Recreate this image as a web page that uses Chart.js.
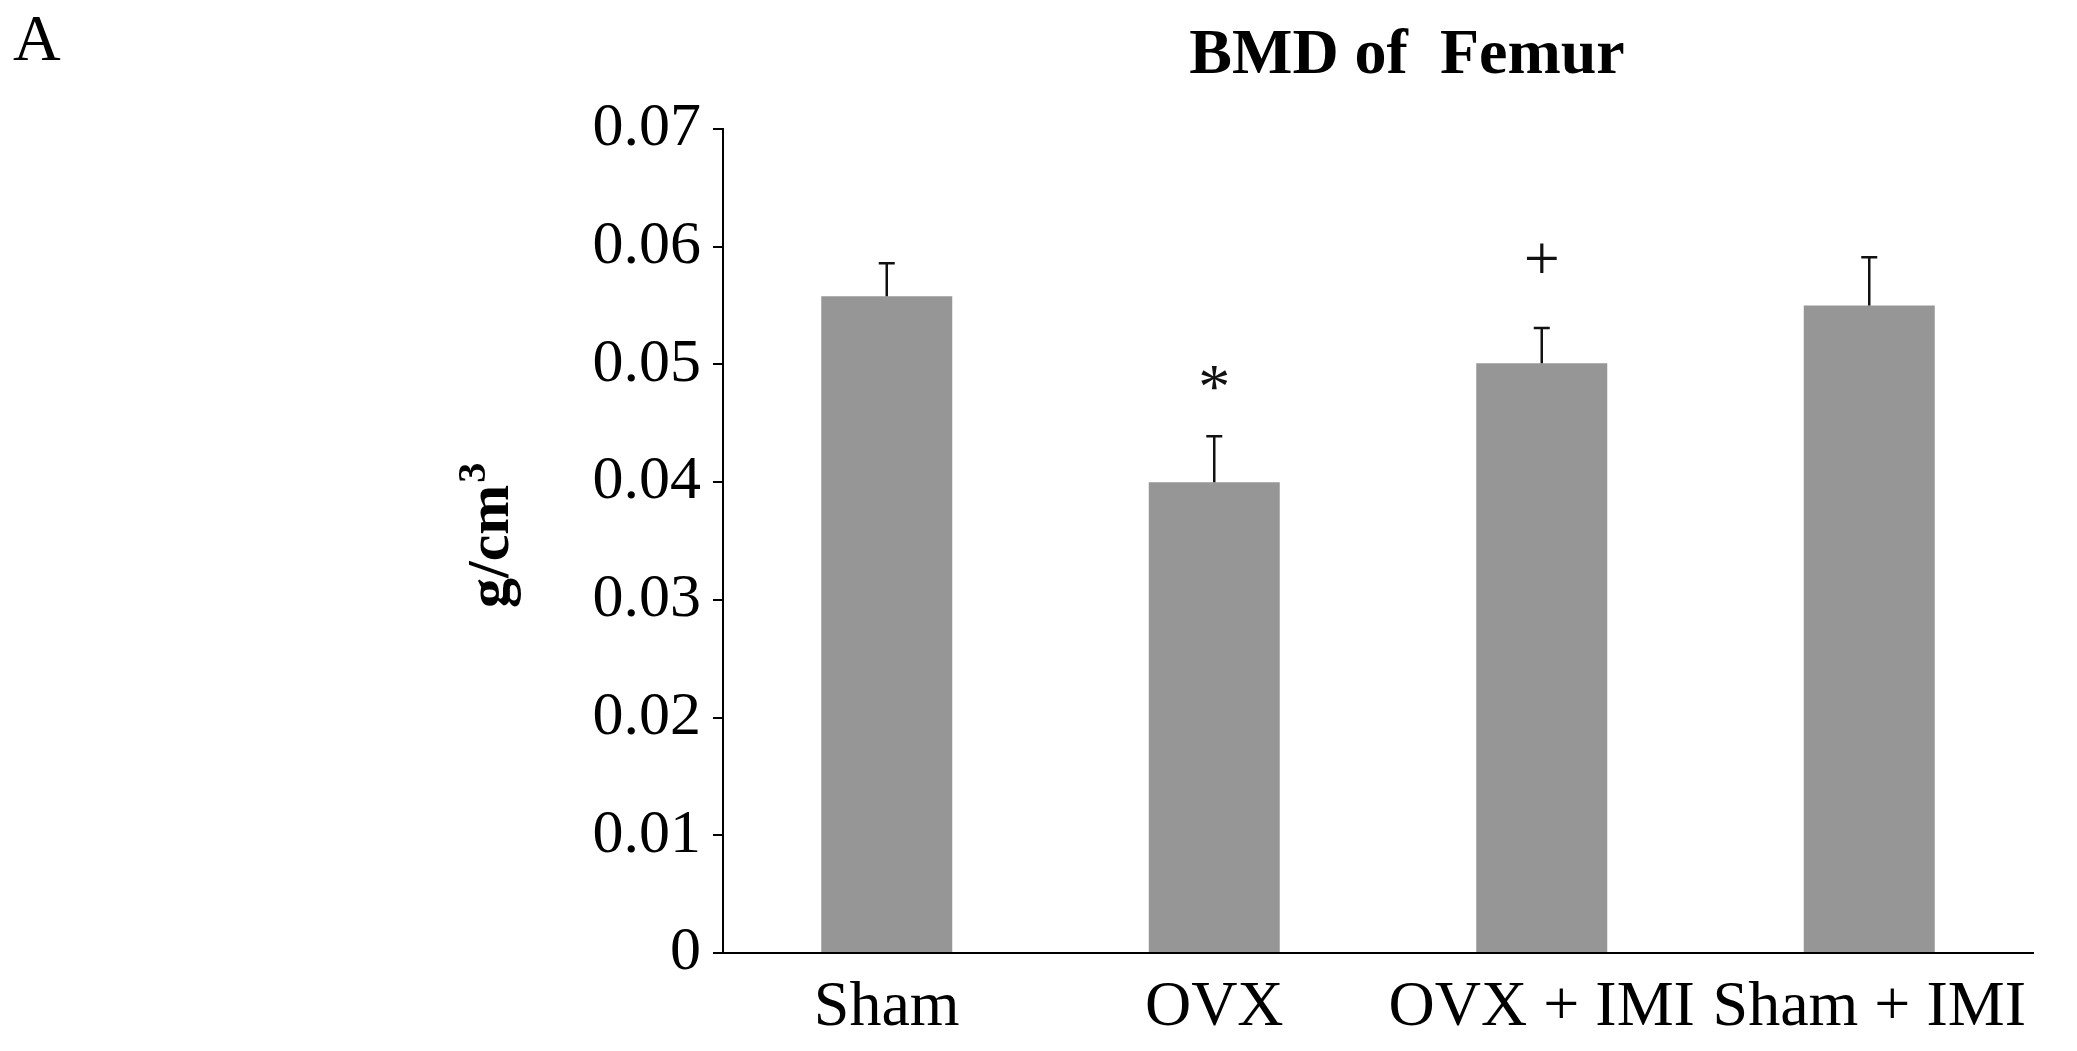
<!DOCTYPE html>
<html>
<head>
<meta charset="utf-8">
<title>BMD of Femur</title>
<script src="https://cdn.jsdelivr.net/npm/chart.js@4.4.1/dist/chart.umd.min.js"></script>
<style>
	html, body { margin: 0; padding: 0; background: #fff; }
	#wrapper-chart { width: 2077px; height: 1051px; }
</style>
</head>
<body>
<div id="wrapper-chart"><canvas id="chart-1" width="2077" height="1051"></canvas></div>
<script>
// values
var categories = ['Sham', 'OVX', 'OVX + IMI', 'Sham + IMI'];
var bmdValues = [0.0558, 0.0400, 0.0501, 0.0550];
var bmdErrors = [0.0028, 0.0039, 0.0030, 0.0041];
var sigMarks = ['', '*', '+', ''];
var yTicks = [0, 0.01, 0.02, 0.03, 0.04, 0.05, 0.06, 0.07];

var app = (function(){
	var
		serif = "'Liberation Serif', 'Times New Roman', serif"
		,barColor = '#969696'
		,inkColor = '#000'
		,markGap = { '*': 58, '+': 70 }
		,chart;

	function init(){
		_createChart();
	}

	function _errorBars(){
		return {
			id: 'errorBars',
			afterDatasetsDraw: function(c){
				var ctx = c.ctx, meta = c.getDatasetMeta(0), y = c.scales.y;
				ctx.save();
				ctx.strokeStyle = '#111';
				ctx.lineWidth = 2.5;
				meta.data.forEach(function(bar, i){
					var top = y.getPixelForValue(bmdValues[i] + bmdErrors[i]);
					ctx.beginPath();
					ctx.moveTo(bar.x, bar.y);
					ctx.lineTo(bar.x, top);
					ctx.moveTo(bar.x - 8, top);
					ctx.lineTo(bar.x + 8, top);
					ctx.stroke();
					if(sigMarks[i]){
						ctx.fillStyle = '#111';
						ctx.font = '64px ' + serif;
						ctx.textAlign = 'center';
						ctx.textBaseline = 'alphabetic';
						var m = ctx.measureText(sigMarks[i]);
						var cy = top - markGap[sigMarks[i]];
						ctx.fillText(sigMarks[i], bar.x, cy + (m.actualBoundingBoxAscent - m.actualBoundingBoxDescent) / 2);
					}
				});
				ctx.restore();
			}
		};
	}

	function _labels(){
		return {
			id: 'labels',
			afterDraw: function(c){
				var ctx = c.ctx;
				ctx.save();
				ctx.fillStyle = inkColor;
				ctx.textBaseline = 'alphabetic';

				// panel letter
				ctx.textAlign = 'left';
				ctx.font = '66px ' + serif;
				ctx.fillText('A', 13, 60);

				// title
				ctx.textAlign = 'center';
				ctx.font = 'bold 64px ' + serif;
				ctx.fillText('BMD of  Femur', 1407, 73);

				// y axis title, rotated, with superscript 3
				ctx.translate(508, 608);
				ctx.rotate(-Math.PI / 2);
				ctx.textAlign = 'left';
				ctx.font = 'bold 60px ' + serif;
				ctx.fillText('g/cm', 0, 0);
				var w = ctx.measureText('g/cm').width;
				ctx.font = 'bold 40px ' + serif;
				ctx.fillText('3', w + 2, -23);
				ctx.restore();
			}
		};
	}

	function _createChart(){
		if(chart !== undefined){
			chart.destroy();
		}
		var chartData = {
			labels: categories,
			datasets: [{
				data: bmdValues,
				backgroundColor: barColor,
				borderWidth: 0,
				barPercentage: 0.4,
				categoryPercentage: 1
			}]
		};
		var ctx = document.getElementById('chart-1');
		chart = new Chart(ctx, {
			type: 'bar',
			data: chartData,
			plugins: [_errorBars(), _labels()],
			options: {
				responsive: false,
				animation: false,
				devicePixelRatio: 1,
				layout: {
					padding: { top: 129, right: 44, bottom: 0, left: 0 }
				},
				plugins: {
					legend: { display: false },
					title: { display: false },
					tooltip: { enabled: false }
				},
				scales: {
					x: {
						grid: { display: false, drawTicks: false },
						border: { display: true, color: inkColor, width: 2 },
						ticks: {
							color: inkColor,
							font: { family: serif, size: 64 },
							padding: 17,
							maxRotation: 0,
							autoSkip: false
						},
						afterFit: function(s){ s.height = 98; }
					},
					y: {
						min: 0,
						max: 0.07,
						grid: {
							drawOnChartArea: false,
							drawTicks: true,
							tickLength: 10,
							color: inkColor,
							lineWidth: 2
						},
						border: { display: true, color: inkColor, width: 2 },
						ticks: {
							color: inkColor,
							font: { family: serif, size: 62 },
							padding: 12,
							callback: function(v){ return v === 0 ? '0' : v.toFixed(2); }
						},
						afterBuildTicks: function(s){
							s.ticks = yTicks.map(function(v){ return { value: v }; });
						},
						afterFit: function(s){ s.width = 723; }
					}
				}
			}
		});
	}

	return {
		init: init
	};
})();

app.init();
</script>
</body>
</html>
